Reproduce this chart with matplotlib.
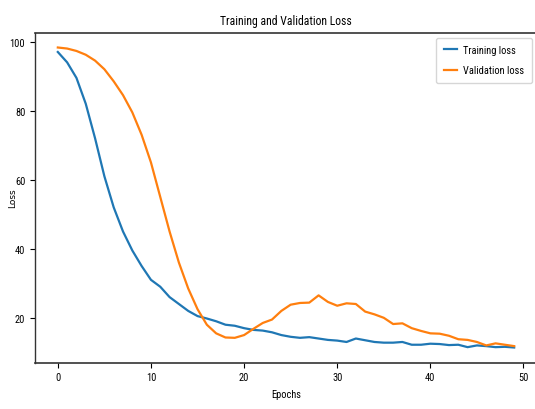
import matplotlib
matplotlib.use("Agg")
import matplotlib.pyplot as plt
from matplotlib import font_manager

epochs = list(range(50))
train_loss = [97, 94, 89.5, 82, 72, 61, 52, 45, 39.5, 35,
              31, 29, 26, 24, 22, 20.5, 19.8, 19, 18, 17.7,
              17, 16.5, 16.3, 15.8, 15, 14.5, 14.2, 14.4, 14, 13.6,
              13.4, 13, 14, 13.5, 13, 12.8, 12.8, 13, 12.2, 12.2,
              12.5, 12.4, 12.1, 12.2, 11.5, 12, 11.8, 11.5, 11.6, 11.4]
val_loss = [98.3, 98, 97.3, 96.2, 94.5, 92, 88.5, 84.5, 79.5, 73,
            65, 55, 45, 36, 28.5, 22.5, 18, 15.5, 14.3, 14.2,
            15, 16.8, 18.5, 19.5, 22, 23.8, 24.3, 24.4, 26.5, 24.6,
            23.5, 24.2, 24, 21.8, 21, 20, 18.2, 18.4, 17, 16.2,
            15.5, 15.4, 14.8, 13.8, 13.6, 13, 12, 12.6, 12.2, 11.8]

title = "Training and Validation Loss"
xlabel = "Epochs"
ylabel = "Loss"
labels = ["Training loss", "Validation loss"]

available = {f.name for f in font_manager.fontManager.ttflist}
narrow = "DejaVu Sans"
for cand in ["Liberation Sans Narrow", "DejaVu Sans Condensed", "Roboto Condensed", "Open Sans Condensed"]:
    if cand in available:
        narrow = cand
        break
plt.rcParams['font.family'] = [narrow, 'DejaVu Sans']

fig = plt.figure(figsize=(5.35, 4.10), dpi=100)
ax = fig.add_axes([35/535, (410-363.5)/410, 502/535, 330/410])
ax.plot(epochs, train_loss, color="#1f77b4", lw=1.6, label=labels[0])
ax.plot(epochs, val_loss, color="#ff7f0e", lw=1.6, label=labels[1])

ax.set_title(title, fontsize=8.5, pad=6)
ax.set_xlabel(xlabel, fontsize=7.5, labelpad=5)
ax.set_ylabel(ylabel, fontsize=6.5, family="DejaVu Sans")
ax.yaxis.set_label_coords(-0.036, 0.5)
ax.tick_params(labelsize=7.5)
ax.set_yticks([20, 40, 60, 80, 100])
ax.set_xticks([0, 10, 20, 30, 40, 50])
for s in ax.spines.values():
    s.set_color("#333333")
ax.spines['right'].set_visible(False)
ax.spines['top'].set_linewidth(1.2)
ax.spines['left'].set_linewidth(1.0)
ax.spines['bottom'].set_linewidth(1.2)

ax.legend(loc="upper right", fontsize=7.5, labelspacing=1.0, handlelength=1.3,
          handletextpad=0.6, borderpad=0.7)

fig.savefig("out.png", dpi=100)
